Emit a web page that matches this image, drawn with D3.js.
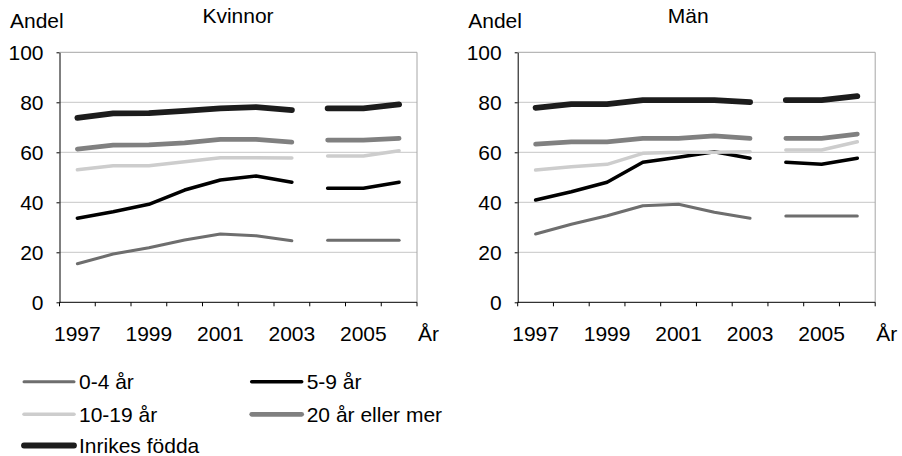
<!DOCTYPE html>
<html>
<head>
<meta charset="utf-8">
<script src="https://cdn.jsdelivr.net/npm/d3@7/dist/d3.min.js"></script>
<style>
  body { margin: 0; background: #fff; }
  svg text { font-family: "Liberation Sans", Arial, sans-serif; fill: #000; }
</style>
</head>
<body>
<svg id="chart" width="902" height="456"></svg>
<script>
// years on the category axis, series break between 2003 and 2004
const years = [1997, 1998, 1999, 2000, 2001, 2002, 2003, 2004, 2005, 2006];
const labelYears = [1997, 1999, 2001, 2003, 2005];
const yTicks = [0, 20, 40, 60, 80, 100];
const breakAfter = 2003;

const seriesNames = ["0-4 år", "5-9 år", "10-19 år", "20 år eller mer", "Inrikes födda"];

// Kvinnor
const kv0_4 = [15.4, 19.3, 21.8, 24.9, 27.3, 26.6, 24.6, 24.8, 24.8, 24.8];
const kv5_9 = [33.6, 36.2, 39.2, 44.9, 48.9, 50.5, 48.0, 45.6, 45.6, 48.0];
const kv10_19 = [53.0, 54.6, 54.6, 56.2, 57.8, 57.8, 57.7, 58.5, 58.5, 60.6];
const kv20 = [61.3, 62.9, 63.0, 63.8, 65.2, 65.2, 64.1, 64.9, 64.9, 65.6];
const kvInrikes = [73.8, 75.6, 75.7, 76.6, 77.6, 78.1, 76.9, 77.6, 77.6, 79.2];

// Män
const man0_4 = [27.3, 31.2, 34.6, 38.6, 39.2, 36.0, 33.6, 34.5, 34.5, 34.5];
const man5_9 = [40.9, 44.2, 48.0, 56.0, 58.0, 60.2, 57.6, 56.0, 55.2, 57.6];
const man10_19 = [52.9, 54.2, 55.2, 59.6, 60.0, 60.0, 60.2, 60.9, 60.9, 64.2];
const man20 = [63.3, 64.2, 64.2, 65.6, 65.6, 66.6, 65.6, 65.6, 65.6, 67.3];
const manInrikes = [77.8, 79.3, 79.3, 80.9, 80.9, 80.9, 80.1, 80.9, 80.9, 82.5];

const styles = [
  { color: "#6e6e6e", width: 3 },
  { color: "#000000", width: 3.5 },
  { color: "#cdcdcd", width: 3.5 },
  { color: "#808080", width: 4.7 },
  { color: "#1c1c1c", width: 5.8 }
];

const svg = d3.select("#chart");
const fontSize = 21;

function drawPanel(offsetX, title, titleX, seriesValues) {
  const left = 59.5, right = 417, top = 52.3, bottom = 302.3;
  const g = svg.append("g").attr("transform", `translate(${offsetX},0)`);

  const x = d3.scaleBand().domain(years).range([left, right]).padding(0);
  const y = d3.scaleLinear().domain([0, 100]).range([bottom, top]);

  // gridlines
  g.append("g").selectAll("line")
    .data(yTicks.filter(t => t > 0))
    .enter().append("line")
    .attr("x1", left).attr("x2", right)
    .attr("y1", d => y(d)).attr("y2", d => y(d))
    .attr("stroke", d => d === 100 ? "#a6a6a6" : "#c6c6c6")
    .attr("stroke-width", 1);
  // right border
  g.append("line")
    .attr("x1", right).attr("x2", right).attr("y1", top).attr("y2", bottom)
    .attr("stroke", "#a6a6a6");

  // y axis
  const yAxis = d3.axisLeft(y).tickValues(yTicks).tickSize(3).tickPadding(13).tickSizeOuter(0);
  const ya = g.append("g").attr("transform", `translate(${left},0)`).call(yAxis);
  ya.select(".domain").attr("stroke", "#000");
  ya.selectAll(".tick line").attr("stroke", "#000");
  ya.selectAll("text").style("font-size", fontSize + "px").attr("font-family", null);

  // x axis: ticks at category boundaries, labels at centers
  const xa = g.append("g");
  xa.append("line")
    .attr("x1", left).attr("x2", right).attr("y1", bottom).attr("y2", bottom)
    .attr("stroke", "#000");
  const bounds = years.map(yr => x(yr)).concat([right]);
  xa.selectAll(".xt").data(bounds).enter().append("line")
    .attr("x1", d => d).attr("x2", d => d)
    .attr("y1", bottom).attr("y2", bottom + 4)
    .attr("stroke", "#000");
  xa.selectAll(".xl").data(labelYears).enter().append("text")
    .attr("x", d => x(d) + x.bandwidth() / 2)
    .attr("y", 340.5)
    .attr("text-anchor", "middle")
    .style("font-size", fontSize + "px")
    .text(d => d);
  g.append("text").attr("x", 418).attr("y", 340.5)
    .style("font-size", fontSize + "px").text("År");

  // labels
  g.append("text").attr("x", 10).attr("y", 28.3)
    .style("font-size", fontSize + "px").text("Andel");
  g.append("text").attr("x", titleX).attr("y", 23.3)
    .attr("text-anchor", "middle")
    .style("font-size", fontSize + "px").text(title);

  // lines, split at the series break
  const line = d3.line()
    .x(d => x(d.year) + x.bandwidth() / 2)
    .y(d => y(d.value));
  seriesValues.forEach((vals, i) => {
    const pts = years.map((yr, j) => ({ year: yr, value: vals[j] }));
    const parts = [pts.filter(p => p.year <= breakAfter), pts.filter(p => p.year > breakAfter)];
    parts.forEach(part => {
      g.append("path")
        .attr("d", line(part))
        .attr("fill", "none")
        .attr("stroke", styles[i].color)
        .attr("stroke-width", styles[i].width)
        .attr("stroke-linejoin", "round")
        .attr("stroke-linecap", "round");
    });
  });
}

drawPanel(0, "Kvinnor", 238, [kv0_4, kv5_9, kv10_19, kv20, kvInrikes]);
drawPanel(458.2, "Män", 230, [man0_4, man5_9, man10_19, man20, manInrikes]);

// legend
const legendPos = [
  { x: 24, y: 381.7 }, { x: 251.7, y: 381.7 },
  { x: 24, y: 414.3 }, { x: 251.7, y: 414.3 },
  { x: 24, y: 445.5 }
];
const legend = svg.append("g");
seriesNames.forEach((name, i) => {
  const p = legendPos[i];
  legend.append("line")
    .attr("x1", p.x).attr("x2", p.x + 50)
    .attr("y1", p.y).attr("y2", p.y)
    .attr("stroke", styles[i].color)
    .attr("stroke-width", styles[i].width)
    .attr("stroke-linecap", "round");
  legend.append("text")
    .attr("x", p.x + 55).attr("y", p.y)
    .attr("dy", "0.35em")
    .style("font-size", fontSize + "px")
    .text(name);
});
</script>
</body>
</html>
